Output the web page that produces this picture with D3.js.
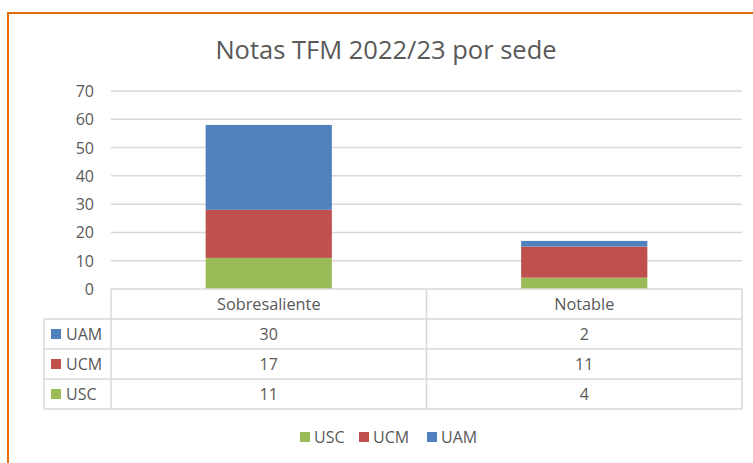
<!DOCTYPE html>
<html><head><meta charset="utf-8">
<script src="https://cdn.jsdelivr.net/npm/d3@7"></script>
<style>
html,body{margin:0;padding:0;background:#fff;}
text{font-family:"Open Sans",sans-serif;fill:#595959;}
</style></head>
<body>
<svg id="chart" width="753" height="463"></svg>
<script>
const title = "Notas TFM 2022/23 por sede";
const categories = ["Sobresaliente", "Notable"];
const seriesNames = ["USC", "UCM", "UAM"];
const uscValues = [11, 4];
const ucmValues = [17, 11];
const uamValues = [30, 2];
const yTicks = [0, 10, 20, 30, 40, 50, 60, 70];
const colors = {USC: "#9BBB59", UCM: "#C0504D", UAM: "#4F81BD"};

const svg = d3.select("#chart");

// chart border
svg.append("rect").attr("x", 8).attr("y", 13).attr("width", 770).attr("height", 470)
  .attr("fill", "#fff").attr("stroke", "#E36C0A").attr("stroke-width", 2);

svg.append("text").attr("x", 386).attr("y", 59).attr("text-anchor", "middle")
  .style("font-size", "25.5px").text(title);

const x = d3.scaleBand().domain(categories).range([111, 742]).paddingInner(0).paddingOuter(0);
const y = d3.scaleLinear().domain([0, 70]).range([289, 91]);

// gridlines
svg.append("g").selectAll("line").data(yTicks.filter(t => t > 0)).join("line")
  .attr("x1", 111).attr("x2", 742).attr("y1", d => y(d)).attr("y2", d => y(d))
  .attr("stroke", "#d9d9d9").attr("stroke-width", 1.5);

// y tick labels
svg.append("g").selectAll("text").data(yTicks).join("text")
  .attr("x", 94).attr("y", d => y(d) + 6).attr("text-anchor", "end")
  .style("font-size", "16px").text(d => d);

// stacked data
const rows = categories.map((c, i) => ({cat: c, USC: uscValues[i], UCM: ucmValues[i], UAM: uamValues[i]}));
const stack = d3.stack().keys(seriesNames)(rows);
const bw = x.bandwidth() * 0.4;

svg.append("g").selectAll("g").data(stack).join("g")
  .attr("fill", d => colors[d.key])
  .selectAll("rect").data(d => d).join("rect")
  .attr("x", d => x(d.data.cat) + (x.bandwidth() - bw) / 2)
  .attr("width", bw)
  .attr("y", d => y(d[1]))
  .attr("height", d => y(d[0]) - y(d[1]));

// data table
const tableTop = 289, rowH = 30, labelLeft = 44, tableRight = 742;
const tableRows = ["UAM", "UCM", "USC"];
const valuesBy = {USC: uscValues, UCM: ucmValues, UAM: uamValues};
const tg = svg.append("g");
const lineStyle = sel => sel.attr("stroke", "#d9d9d9").attr("stroke-width", 1.5).attr("fill", "none");

tg.append("line").attr("x1", x.range()[0]).attr("x2", tableRight).attr("y1", tableTop).attr("y2", tableTop).call(lineStyle);
for (let r = 1; r <= tableRows.length + 1; r++) {
  tg.append("line").attr("x1", labelLeft).attr("x2", tableRight)
    .attr("y1", tableTop + r * rowH).attr("y2", tableTop + r * rowH).call(lineStyle);
}
tg.append("line").attr("x1", labelLeft).attr("x2", labelLeft).attr("y1", tableTop + rowH).attr("y2", tableTop + 4 * rowH).call(lineStyle);
categories.forEach(c => {
  tg.append("line").attr("x1", x(c)).attr("x2", x(c)).attr("y1", tableTop).attr("y2", tableTop + 4 * rowH).call(lineStyle);
});
tg.append("line").attr("x1", tableRight).attr("x2", tableRight).attr("y1", tableTop).attr("y2", tableTop + 4 * rowH).call(lineStyle);

tg.selectAll("text.hdr").data(categories).join("text").attr("class", "hdr")
  .attr("x", d => x(d) + x.bandwidth() / 2).attr("y", tableTop + rowH / 2 + 6)
  .attr("text-anchor", "middle").style("font-size", "16.3px").text(d => d);

tableRows.forEach((s, ri) => {
  const cy = tableTop + (ri + 1) * rowH + rowH / 2;
  tg.append("rect").attr("x", 51).attr("y", cy - 5).attr("width", 10).attr("height", 10).attr("fill", colors[s]);
  tg.append("text").attr("x", 66).attr("y", cy + 6).style("font-size", "16px").text(s);
  categories.forEach((c, ci) => {
    tg.append("text").attr("x", x(c) + x.bandwidth() / 2).attr("y", cy + 6)
      .attr("text-anchor", "middle").style("font-size", "16px").text(valuesBy[s][ci]);
  });
});

// bottom legend
const legendX = [300, 359, 427];
const lg = svg.append("g");
seriesNames.forEach((s, i) => {
  lg.append("rect").attr("x", legendX[i]).attr("y", 432).attr("width", 10).attr("height", 10).attr("fill", colors[s]);
  lg.append("text").attr("x", legendX[i] + 14).attr("y", 443).style("font-size", "16px").text(s);
});
</script>
</body></html>
